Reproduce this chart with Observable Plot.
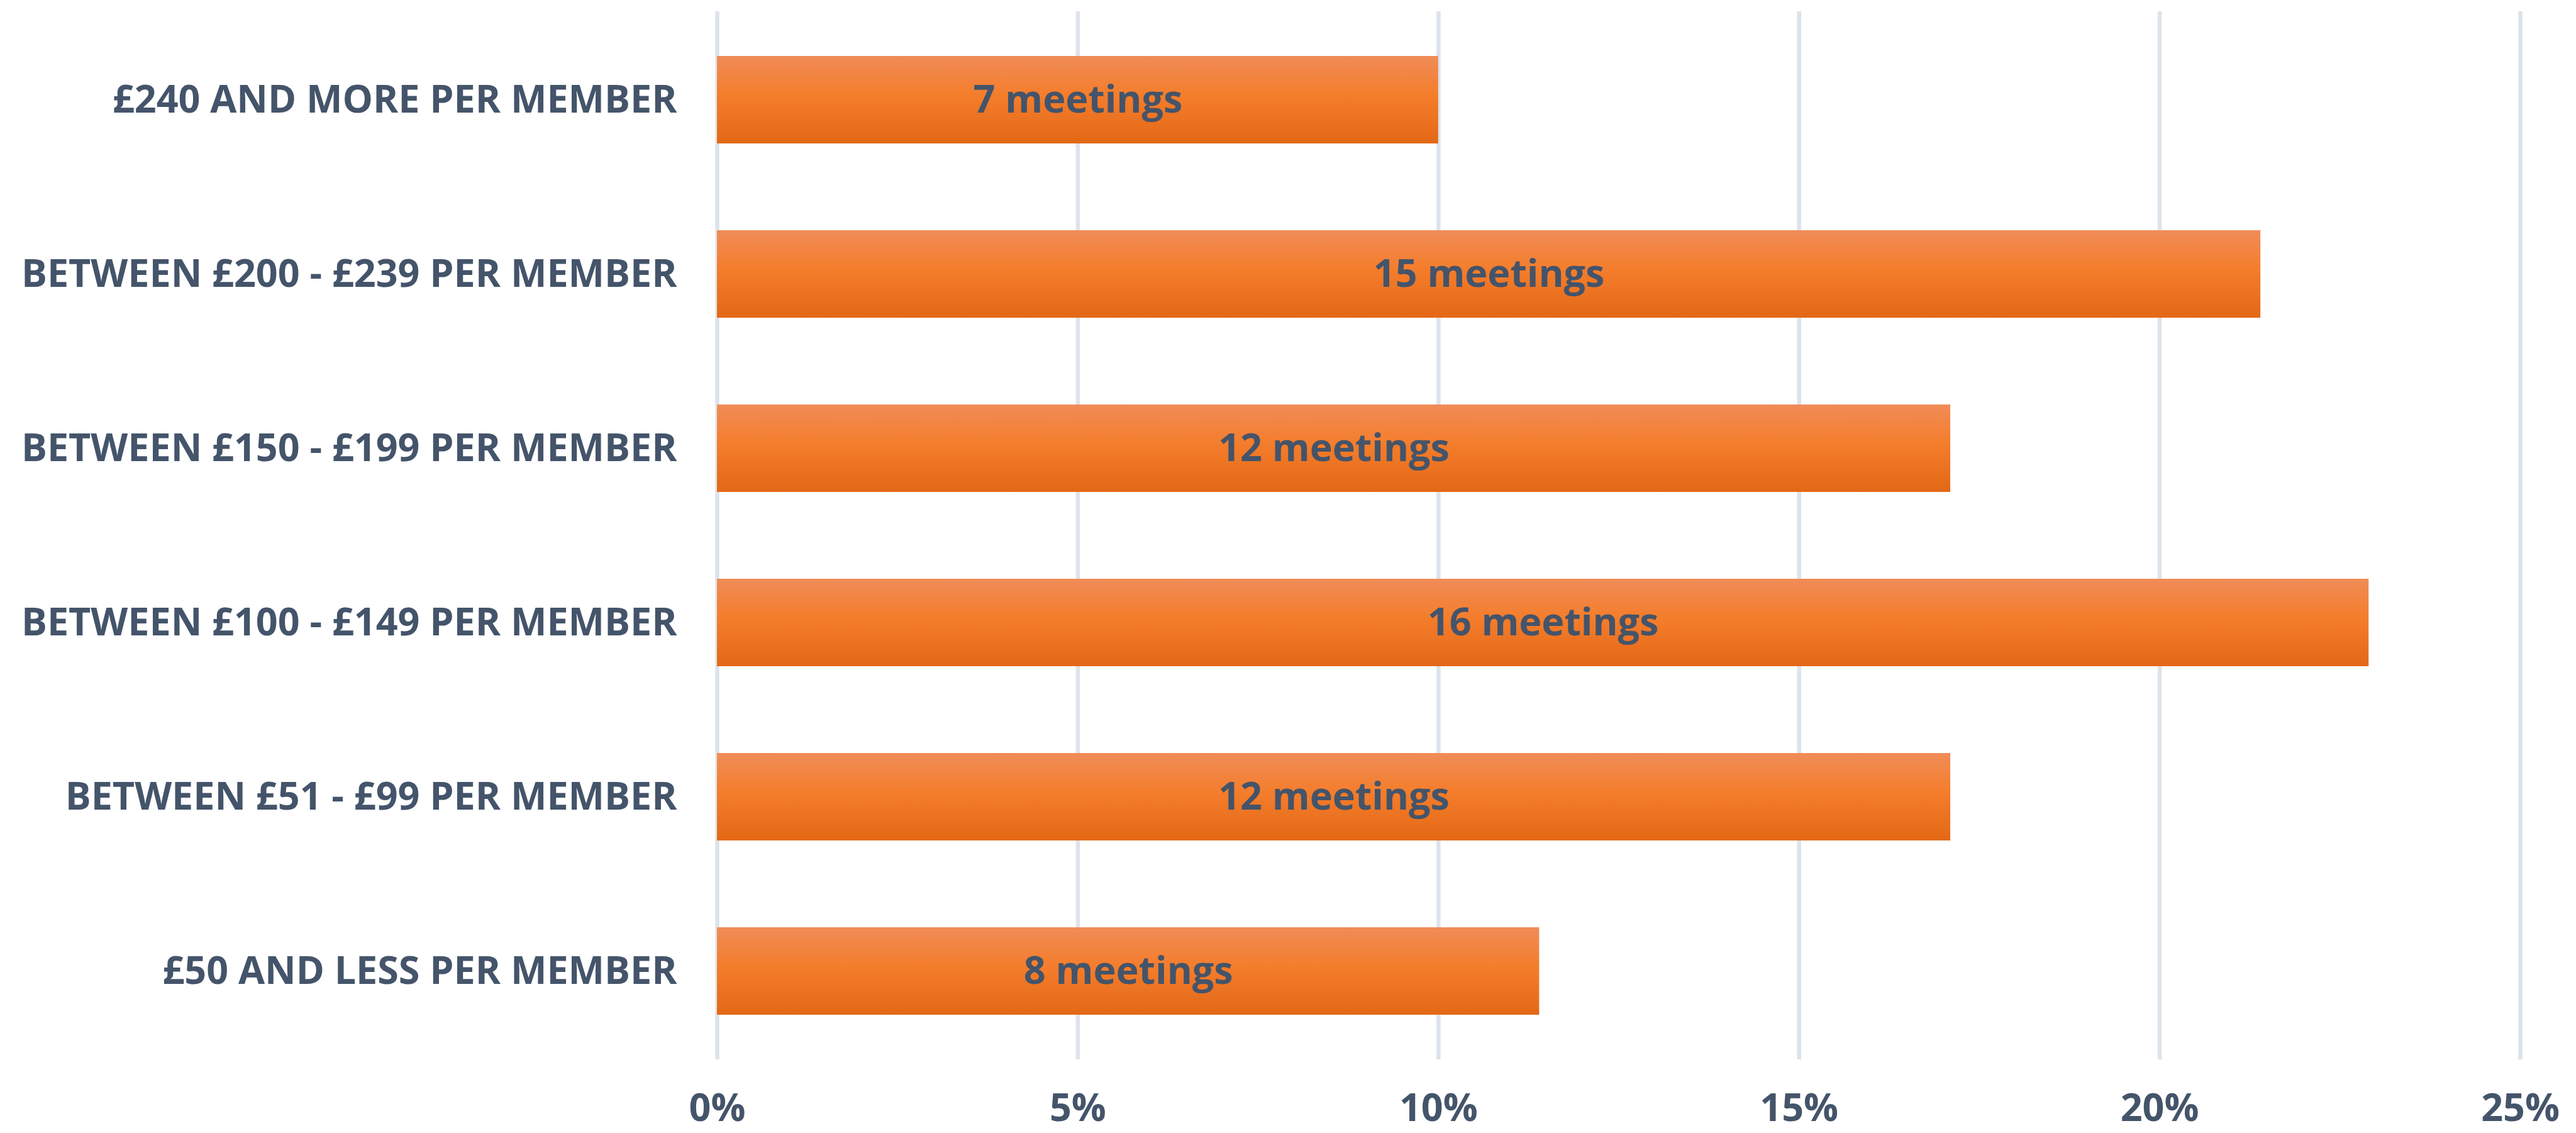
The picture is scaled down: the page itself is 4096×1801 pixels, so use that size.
<!DOCTYPE html>
<html>
<head>
<meta charset="utf-8">
<script src="https://cdn.jsdelivr.net/npm/d3@7"></script>
<script src="https://cdn.jsdelivr.net/npm/@observablehq/plot@0.6"></script>
<style>
  html, body { margin: 0; padding: 0; background: #ffffff; }
  #chart svg { display: block; }
</style>
</head>
<body>
<div id="chart"></div>
<script>
const categories = [
  "£240 AND MORE PER MEMBER",
  "BETWEEN £200 - £239 PER MEMBER",
  "BETWEEN £150 - £199 PER MEMBER",
  "BETWEEN £100 - £149 PER MEMBER",
  "BETWEEN £51 - £99 PER MEMBER",
  "£50 AND LESS PER MEMBER"
];
const percents = [10.0, 21.4, 17.1, 22.9, 17.1, 11.4];
const meetings = [7, 15, 12, 16, 12, 8];
const xTicks = [0, 5, 10, 15, 20, 25];

const data = categories.map((c, i) => ({
  category: c,
  percent: percents[i],
  label: meetings[i] + " meetings"
}));

const textColor = "#44546A";

const chart = Plot.plot({
  width: 4096,
  height: 1801,
  marginLeft: 1140,
  marginRight: 89,
  marginTop: 18,
  marginBottom: 117,
  style: {
    fontFamily: "'Open Sans', sans-serif",
    fontWeight: "700",
    fontSize: "61px",
    color: textColor,
    background: "#ffffff",
    overflow: "visible"
  },
  x: { domain: [0, 25], ticks: xTicks, tickFormat: d => d + "%", label: null },
  y: { domain: categories, paddingInner: 0.5, paddingOuter: 0.25, label: null },
  marks: [
    Plot.gridX(xTicks, { stroke: "#DDE3EA", strokeOpacity: 1, strokeWidth: 6.5 }),
    Plot.barX(data, { x: "percent", y: "category", fill: "url(#barGrad)" }),
    Plot.text(data, {
      x: d => d.percent / 2,
      y: "category",
      text: "label",
      fill: textColor,
      fontSize: 61,
      fontWeight: "bold"
    }),
    Plot.axisX({ ticks: xTicks, tickSize: 0, tickPadding: 54, tickFormat: d => d + "%", label: null }),
    Plot.axisY({ tickSize: 0, tickPadding: 64, label: null })
  ]
});

const defs = d3.select(chart).insert("defs", ":first-child");
const grad = defs.append("linearGradient")
  .attr("id", "barGrad")
  .attr("x1", 0).attr("y1", 0).attr("x2", 0).attr("y2", 1);
grad.append("stop").attr("offset", "0%").attr("stop-color", "#F08C58");
grad.append("stop").attr("offset", "45%").attr("stop-color", "#F47D2B");
grad.append("stop").attr("offset", "100%").attr("stop-color", "#E36816");

document.getElementById("chart").appendChild(chart);
</script>
</body>
</html>
